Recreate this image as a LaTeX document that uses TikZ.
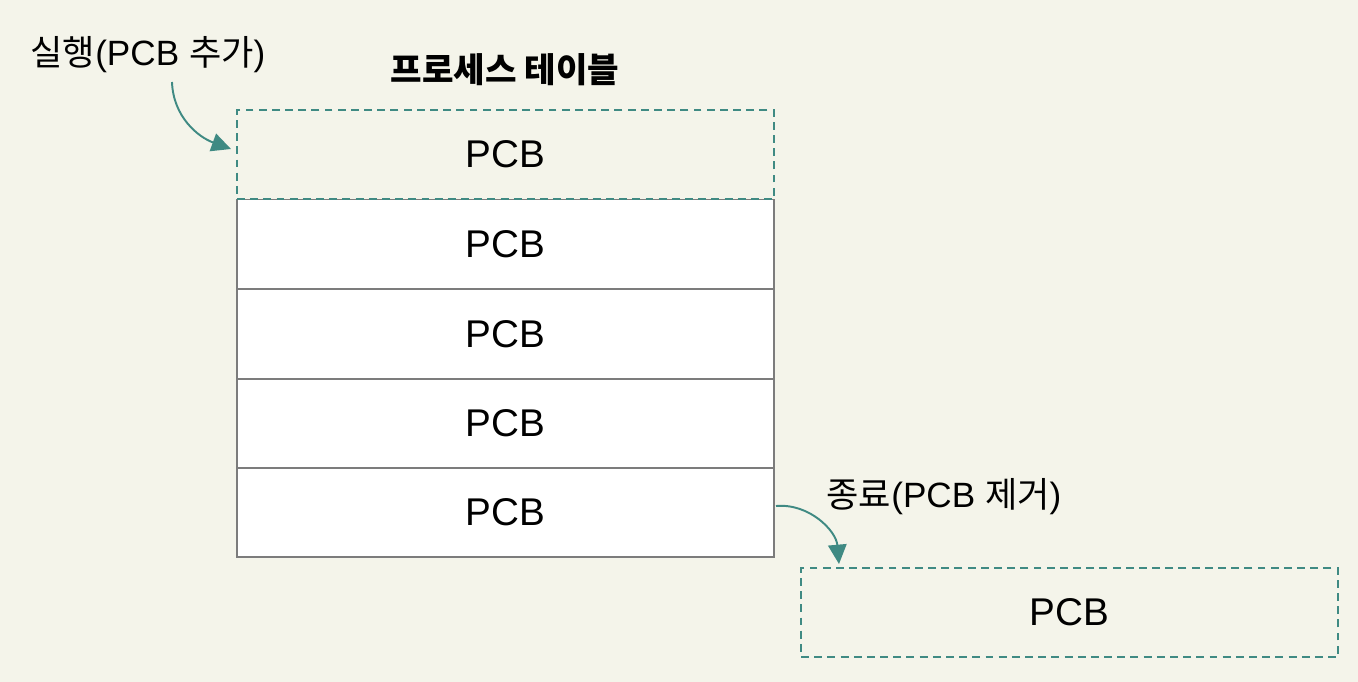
\documentclass[tikz,border=0pt]{standalone}
\usepackage{fontspec}
\setmainfont{Liberation Sans}
\newfontfamily\kr{Noto Sans CJK KR}
\usetikzlibrary{arrows.meta}
\definecolor{bgcol}{HTML}{F4F4EA}
\definecolor{tealc}{HTML}{3F8A83}
\definecolor{rowgray}{HTML}{7C7C7C}
\tikzset{
    pcb/.style={rectangle, draw=rowgray, fill=white, line width=1.1pt,
    	minimum width=10.74cm, minimum height=1.78cm, outer sep=0pt,
    	font=\fontsize{22}{25}\selectfont},
    newpcb/.style={pcb, draw=tealc, fill=none, dashed,
    	dash pattern=on 4.5pt off 3pt},
    lbl/.style={font=\fontsize{20}{24}\selectfont, inner sep=0pt},
    move/.style={draw=tealc, line width=1.1pt,
    	-{Triangle[length=11pt, width=10.5pt]}}
}

\begin{document}
\begin{tikzpicture}[x=0.02cm, y=-0.02cm]
  \fill[bgcol] (0,0) rectangle (1358,682);
  \useasboundingbox (0,0) rectangle (1358,682);

  % process table
  \node (p2) [pcb] at (505.5,244) {PCB};
  \node (p3) [pcb] at (505.5,334) {PCB};
  \node (p4) [pcb] at (505.5,423.5) {PCB};
  \node (p5) [pcb] at (505.5,512.5) {PCB};
  \node (p1) [newpcb] at (505.5,154.5) {PCB};
  \node (gone) [newpcb] at (1069.5,612.5) {PCB};

  \node (title) [lbl, font=\fontsize{19.5}{23}\selectfont\kr\bfseries] at (505,70) {프로세스 테이블};
  \node (add) [lbl] at (148,55) {{\kr 실행}(PCB {\kr 추가})};
  \node (del) [lbl] at (944,497) {{\kr 종료}(PCB {\kr 제거})};

  \coordinate (s1) at (172,82);
  \coordinate (e1) at (231,149);
  \coordinate (s2) at (776,506);
  \coordinate (e2) at (839,564);

  \draw [move] (s1) to[out=-88, in=160] (e1);
  \draw [move] (s2) to[out=5, in=95] (e2);
\end{tikzpicture}
\end{document}
